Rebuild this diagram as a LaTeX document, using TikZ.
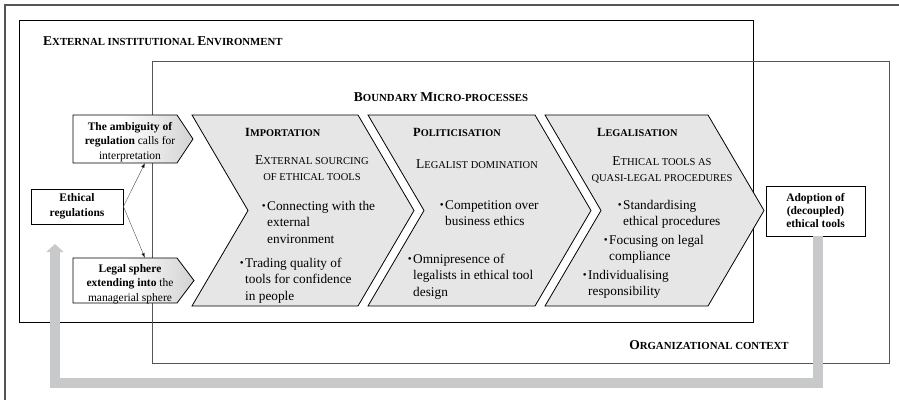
\documentclass[tikz,border=0pt]{standalone}
\usepackage{fontspec}
\setmainfont{Liberation Serif}
\usetikzlibrary{arrows.meta}
\definecolor{chevfill}{HTML}{E6E6E6}
\definecolor{loopgray}{HTML}{C8C9CB}
\definecolor{framegray}{HTML}{555555}
\pgfdeclarehorizontalshading{boxgrad}{100bp}{color(0bp)=(white); color(45bp)=(white); color(100bp)=(black!32)}
\newcommand\bodyf{\fontsize{13.3}{16.5}\selectfont}
\newcommand\boxf{\fontsize{11.5}{14.5}\selectfont}
\newcommand\Lb{\fontsize{13.5}{16}\selectfont}
\newcommand\Ls{\fontsize{10.8}{16}\selectfont}
\newcommand\Tb{\fontsize{12.5}{16}\selectfont}
\newcommand\Ts{\fontsize{10.3}{16}\selectfont}
\newcommand\Sb{\fontsize{13.5}{16}\selectfont}
\newcommand\Ss{\fontsize{10.5}{16}\selectfont}
\newcommand\bul{\leavevmode\llap{\raisebox{0.5pt}{\fontsize{11}{11}\selectfont\textbullet}\hspace{1.5pt}}}
\tikzset{
  chev/.style={draw=black, line width=0.8pt, fill=chevfill, line join=miter},
  gbox/.style={draw=black, line width=0.8pt, shading=boxgrad},
  plainbox/.style={draw=black, line width=0.8pt, fill=white, inner sep=0pt, align=center, font=\boxf\bfseries},
  txt/.style={inner sep=0pt, anchor=base west},
  ctxt/.style={inner sep=0pt, anchor=base},
  thin arrow/.style={draw=black!70, line width=0.4pt, -{Latex[length=5pt,width=3.5pt,fill=black]}},
  loop arrow/.style={draw=loopgray, line width=9.5pt, line join=miter, -{Triangle[length=8pt,width=17pt]}},
}
\begin{document}
\begin{tikzpicture}[x=1pt,y=-1pt]
\useasboundingbox (0,0) rectangle (899,399);
% outer frame
\draw[framegray, line width=1.3pt] (5,402) -- (5,5) -- (902,5);
% environments
\draw[black, line width=0.8pt] (19,20) rectangle (753,322);
\draw[framegray, line width=1pt] (152,61) rectangle (889,363);
% labels
\node[txt, font=\bfseries] (extlab) at (43,45) {{\Lb E}{\Ls XTERNAL INSTITUTIONAL }{\Lb E}{\Ls NVIRONMENT}};
\node[ctxt, font=\bfseries] (bmplab) at (441,101) {{\Lb B}{\Ls OUNDARY }{\Lb M}{\Ls ICRO-PROCESSES}};
\node[ctxt, font=\bfseries] (orglab) at (709,349) {{\Lb O}{\Ls RGANIZATIONAL CONTEXT}};
% loop arrow
\coordinate (loopR) at (818,383);
\coordinate (loopL) at (55,383);
\coordinate (loopTip) at (55,244);
% ethical regulations
\node[plainbox, minimum width=92pt, minimum height=35pt] (eth) at (77,206.5) {Ethical\\regulations};
% adoption
\node[plainbox, minimum width=99pt, minimum height=50pt, font=\fontsize{11.5}{13}\selectfont\bfseries] (adopt) at (815.5,211) {Adoption of\\(decoupled)\\ethical tools};
\draw[loop arrow] (adopt.south -| loopR) -- (loopR) -- (loopL) -- (loopTip);
% small boxes
\draw[gbox] (73,115) -- (177,115) -- (193,139) -- (177,163) -- (73,163) -- cycle;
\draw[gbox] (73,258) -- (177,258) -- (194,280.5) -- (177,303) -- (73,303) -- cycle;
\coordinate (ambS) at (145,163);
\coordinate (legN) at (145,258);
\draw[thin arrow] (eth.east) -- (ambS);
\draw[thin arrow] (eth.east) -- (legN);
\node[ctxt] (ambtxt) at (130,130) {\parbox[t]{120pt}{\centering\boxf\textbf{The ambiguity of}\\\textbf{regulation} calls for\\interpretation}};
\node[ctxt] (legtxt) at (130,272) {\parbox[t]{120pt}{\centering\boxf\textbf{Legal sphere}\\\textbf{extending into} the\\managerial sphere}};
% chevrons
\draw[chev] (192,115) -- (358,115) -- (414,210.5) -- (358,306) -- (192,306) -- (248,210.5) -- cycle;
\draw[chev] (368,115) -- (535,115) -- (591,210.5) -- (535,306) -- (368,306) -- (424,210.5) -- cycle;
\draw[chev] (545,115) -- (708,115) -- (764,210.5) -- (708,306) -- (545,306) -- (601,210.5) -- cycle;
% importation
\node[txt, font=\bfseries] (imp) at (245,136) {{\Tb I}{\Ts MPORTATION}};
\node[ctxt] (impsub) at (312,164) {\parbox[t]{150pt}{\centering\Ss{\Sb E}XTERNAL SOURCING\\OF ETHICAL TOOLS}};
\node[txt] (imp1) at (267,210) {\parbox[t]{140pt}{\raggedright\bodyf\bul Connecting with the\\external\\environment}};
\node[txt] (imp2) at (245,267) {\parbox[t]{140pt}{\raggedright\bodyf\bul Trading quality of\\tools for confidence\\in people}};
% politicisation
\node[txt, font=\bfseries] (pol) at (413,136) {{\Tb P}{\Ts OLITICISATION}};
\node[ctxt] (polsub) at (477,168) {{\Sb L}{\Ss EGALIST DOMINATION}};
\node[txt] (pol1) at (445,209) {\parbox[t]{140pt}{\raggedright\bodyf\bul Competition over\\business ethics}};
\node[txt] (pol2) at (413,263) {\parbox[t]{140pt}{\raggedright\bodyf\bul Omnipresence of\\legalists in ethical tool\\design}};
% legalisation
\node[txt, font=\bfseries] (leg) at (597,136) {{\Tb L}{\Ts EGALISATION}};
\node[ctxt] (legsub) at (662,165) {\parbox[t]{180pt}{\centering\Ss{\Sb E}THICAL TOOLS AS\\QUASI-LEGAL PROCEDURES}};
\node[txt] (leg1) at (623,209) {\parbox[t]{140pt}{\raggedright\bodyf\bul Standardising\\ethical procedures}};
\node[txt] (leg2) at (609,244) {\parbox[t]{140pt}{\raggedright\bodyf\bul Focusing on legal\\compliance}};
\node[txt] (leg3) at (588,279) {\parbox[t]{140pt}{\raggedright\bodyf\bul Individualising\\responsibility}};
\end{tikzpicture}
\end{document}
